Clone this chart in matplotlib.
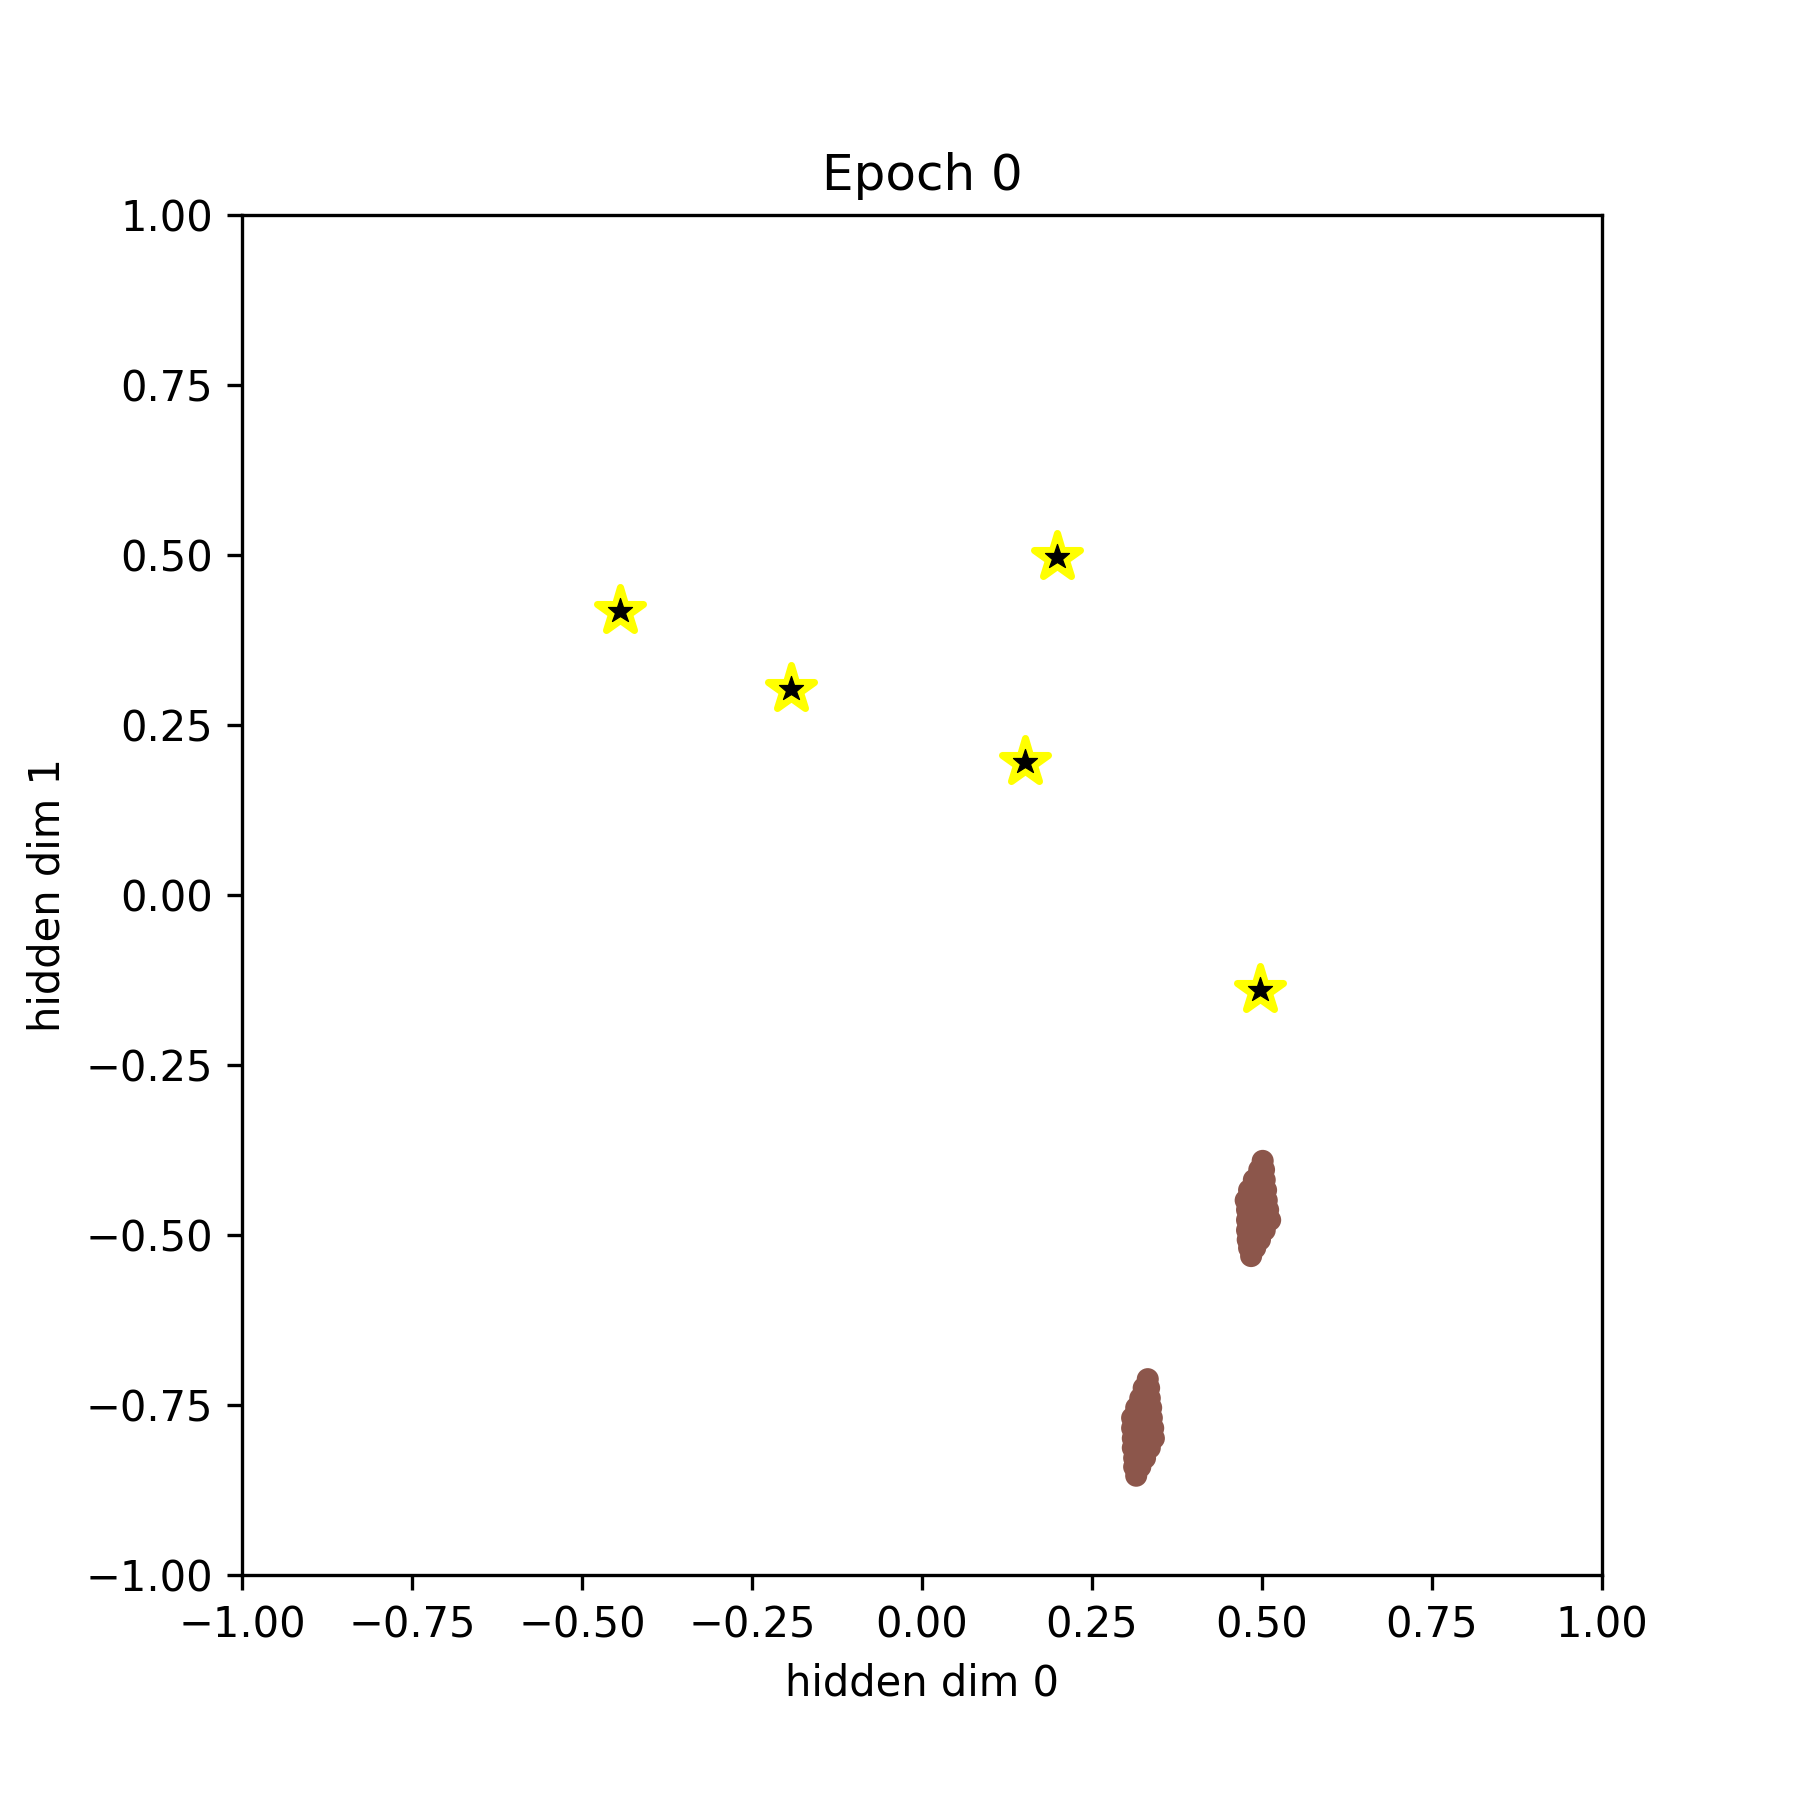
import matplotlib
matplotlib.use("Agg")
import matplotlib.pyplot as plt
from matplotlib.markers import MarkerStyle

# Centroid stars
star_x = [-0.444, -0.193, 0.199, 0.151, 0.497]
star_y = [0.418, 0.303, 0.497, 0.196, -0.140]

# Cluster 1 points (hidden dims)
c1_x = [0.501,
        0.496, 0.503,
        0.488, 0.497, 0.504,
        0.481, 0.493, 0.506,
        0.476, 0.487, 0.497, 0.507,
        0.478, 0.488, 0.499, 0.509,
        0.478, 0.490, 0.500, 0.512,
        0.478, 0.491, 0.504,
        0.479, 0.488, 0.497,
        0.481, 0.490,
        0.484]
c1_y = [-0.391,
        -0.404, -0.404,
        -0.419, -0.419, -0.419,
        -0.434, -0.434, -0.434,
        -0.449, -0.449, -0.449, -0.449,
        -0.463, -0.463, -0.463, -0.463,
        -0.478, -0.478, -0.478, -0.478,
        -0.493, -0.493, -0.493,
        -0.507, -0.507, -0.507,
        -0.519, -0.519,
        -0.531]

# Cluster 2 points
c2_x = [0.332,
        0.326, 0.334,
        0.321, 0.328, 0.335,
        0.315, 0.325, 0.337,
        0.309, 0.319, 0.329, 0.338,
        0.309, 0.319, 0.329, 0.340,
        0.310, 0.321, 0.331, 0.341,
        0.310, 0.322, 0.335,
        0.312, 0.321, 0.328,
        0.312, 0.321,
        0.315]
c2_y = [-0.712,
        -0.725, -0.725,
        -0.740, -0.740, -0.740,
        -0.754, -0.754, -0.754,
        -0.769, -0.769, -0.769, -0.769,
        -0.784, -0.784, -0.784, -0.784,
        -0.799, -0.799, -0.799, -0.799,
        -0.813, -0.813, -0.813,
        -0.828, -0.828, -0.828,
        -0.841, -0.841,
        -0.854]

title = "Epoch 0"
xlabel = "hidden dim 0"
ylabel = "hidden dim 1"

fig = plt.figure(figsize=(6, 6), dpi=300)
ax = fig.add_axes([242/1800, 225/1800, 1360/1800, 1360/1800])

ax.scatter(c1_x + c2_x, c1_y + c2_y, s=28, color="#8c564b", edgecolors="none", zorder=2)
ax.plot(star_x, star_y, linestyle="none", marker=MarkerStyle("*", joinstyle="round"),
        markersize=11.4, markerfacecolor="yellow", markeredgecolor="yellow",
        markeredgewidth=1.7, zorder=3)
ax.plot(star_x, star_y, linestyle="none", marker=MarkerStyle("*", joinstyle="round"),
        markersize=6.2, markerfacecolor="black", markeredgecolor="black",
        markeredgewidth=0.3, zorder=4)

ax.set_xlim(-1, 1)
ax.set_ylim(-1, 1)
ax.set_xticks([-1, -0.75, -0.5, -0.25, 0, 0.25, 0.5, 0.75, 1])
ax.set_yticks([-1, -0.75, -0.5, -0.25, 0, 0.25, 0.5, 0.75, 1])
ax.set_title(title)
ax.set_xlabel(xlabel)
ax.set_ylabel(ylabel)

fig.savefig("out.png", dpi=300)
